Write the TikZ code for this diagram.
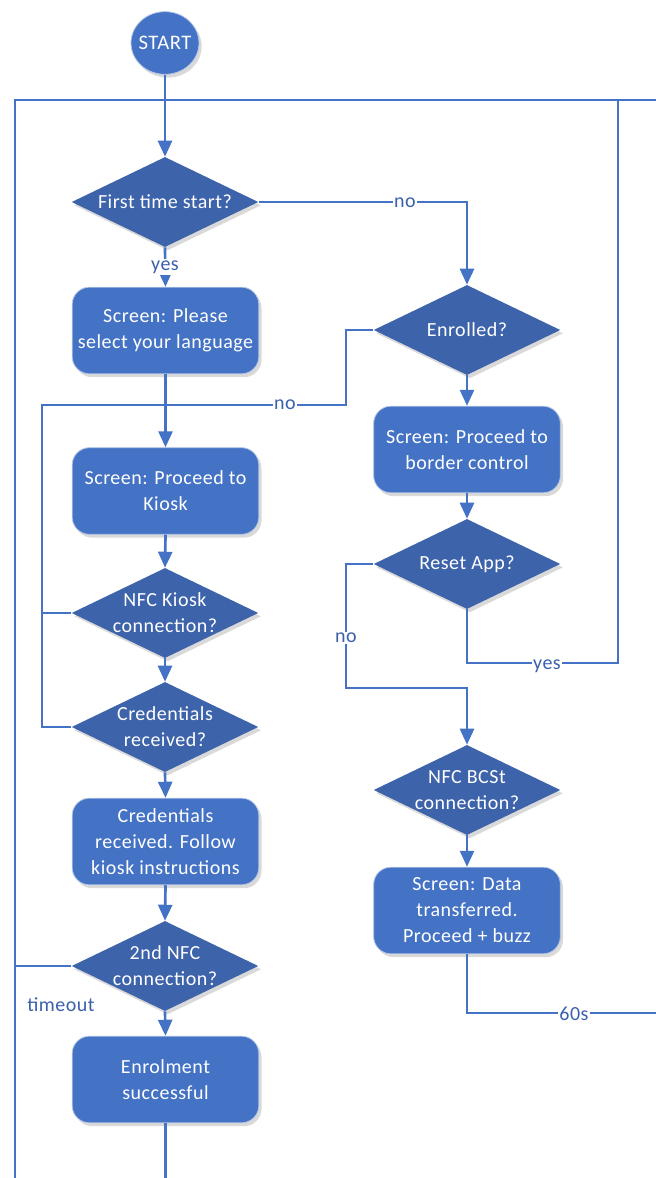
\documentclass[tikz,border=0pt]{standalone}
\usepackage{fontspec}
\setmainfont{Carlito}[LetterSpace=2.5]
\usetikzlibrary{arrows.meta,shapes.geometric,shadows}
\definecolor{boxblue}{RGB}{68,114,196}
\definecolor{diablue}{RGB}{61,99,170}
\definecolor{lineblue}{RGB}{68,114,196}
\definecolor{labelblue}{RGB}{59,96,172}
\begin{document}
\begin{tikzpicture}[x=0.75pt,y=-0.75pt,
  conn/.style={draw=lineblue,line width=2pt},
  arr/.style={conn,-{Triangle[width=10.5pt,length=12pt]}},
  shad/.style={drop shadow={opacity=0.3,shadow xshift=2pt,shadow yshift=-2.5pt}},
  txt/.style={font=\fontsize{15}{19.5}\selectfont},
  box/.style={rectangle,rounded corners=13pt,fill=boxblue,draw=white!60!boxblue,line width=0.6pt,
    minimum width=140pt,minimum height=65pt,text=white,align=center,txt,shad},
  dia/.style={diamond,fill=diablue,minimum width=140pt,minimum height=67.5pt,inner sep=0pt,shad},
  diatext/.style={text=white,align=center,txt},
  lbl/.style={fill=white,text=labelblue,txt,inner sep=1pt},
  startnode/.style={ellipse,fill=boxblue,draw=white!60!boxblue,line width=0.6pt,minimum width=51pt,minimum height=47pt,inner sep=0pt,shad},
  starttext/.style={text=white,font=\fontsize{15.5}{18}\selectfont}
]
\useasboundingbox (0,0) rectangle (656,1178);

% nodes
\node[startnode,label={[starttext]center:START}] (st) at (165,43) {};
\node[dia,label={[diatext]center:First time start?}] (d1) at (165,202) {};
\node[box] (b1) at (165.5,330.5) {Screen: Please\\select your language};
\node[box] (b2) at (165.5,491) {Screen: Proceed to\\Kiosk};
\node[dia,label={[diatext]center:NFC Kiosk\\connection?}] (d2) at (165,613) {};
\node[dia,label={[diatext]center:Credentials\\received?}] (d3) at (165,727) {};
\node[box] (b3) at (165.5,841.5) {Credentials\\received. Follow\\kiosk instructions};
\node[dia,label={[diatext]center:2nd NFC\\connection?}] (d4) at (165,966) {};
\node[box] (b4) at (165.5,1079.5) {Enrolment\\successful};

\node[dia,label={[diatext]center:Enrolled?}] (e1) at (467,330) {};
\node[box] (b5) at (467,449.5) {Screen: Proceed to\\border control};
\node[dia,label={[diatext]center:Reset App?}] (e2) at (467,564) {};
\node[dia,label={[diatext]center:NFC BCSt\\connection?}] (e3) at (467,790) {};
\node[box] (b6) at (467,910.5) {Screen: Data\\transferred.\\Proceed + buzz};

% coordinates
\coordinate (tl) at (15,100);
\coordinate (tr) at (660,100);
\coordinate (bl) at (15,1182);
\coordinate (b4end) at (165.5,1182);
\coordinate (nA) at (346,405);
\coordinate (nB) at (42,405);
\coordinate (nD) at (346,688);
\coordinate (ry) at (618,663);
\coordinate (rt) at (618,100);
\coordinate (r60) at (660,1013);

% connectors
\draw[conn] (tr) -- (tl) -- (bl);
\draw[conn] (d4.west) -- (d4.west -| tl);
\draw[arr] (st.south) -- (d1.north);
\draw[arr] (d1.east) -| (e1.north);
\draw[arr] (d1.south) -- (b1.north);
\draw[arr] (b1.south) -- (b2.north);
\draw[arr] (b2.south) -- (d2.north);
\draw[arr] (d2.south) -- (d3.north);
\draw[arr] (d3.south) -- (b3.north);
\draw[arr] (b3.south) -- (d4.north);
\draw[arr] (d4.south) -- (b4.north);
\draw[conn] (b4.south) -- (b4end);
\draw[conn] (e1.west) -| (nA) -- (nB) |- (d3.west);
\draw[conn] (d2.west) -- (d2.west -| nB);
\draw[arr] (e1.south) -- (b5.north);
\draw[arr] (b5.south) -- (e2.north);
\draw[conn] (e2.south) |- (ry) -- (rt);
\draw[arr] (e2.west) -| (nD) -| (e3.north);
\draw[arr] (e3.south) -- (b6.north);
\draw[conn] (b6.south) |- (r60);

% labels
\node[lbl] (l1) at (405,203) {no};
\node[lbl] (l2) at (165,267) {yes};
\node[lbl] (l3) at (285,405) {no};
\node[lbl] (l4) at (346,638) {no};
\node[lbl] (l5) at (547,666) {yes};
\node[lbl] (l6) at (574,1014) {60s};
\node[lbl] (l7) at (61,1005) {timeout};
\end{tikzpicture}
\end{document}
